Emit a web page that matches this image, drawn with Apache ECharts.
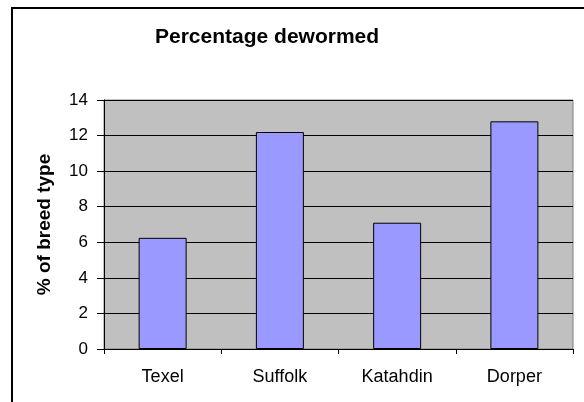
<!DOCTYPE html>
<html>
<head>
<meta charset="utf-8">
<script src="https://cdn.jsdelivr.net/npm/echarts@6/dist/echarts.min.js"></script>
<style>
  html, body { margin: 0; padding: 0; background: #fff; }
  #container { width: 584px; height: 402px; }
</style>
</head>
<body>
<div id="container"></div>
<script>
(function () {
    // breeds and share of each breed that got dewormed
    const breeds = ['Texel', 'Suffolk', 'Katahdin', 'Dorper'];
    const dewormed = [6.25, 12.2, 7.1, 12.8];
    const yTicks = { min: 0, max: 14, step: 2 };

    const font = 'Liberation Sans, Arial, sans-serif';

    var dom = document.getElementById('container');
    var myChart = echarts.init(dom, null, { renderer: 'canvas' });

    myChart.setOption({
        animation: false,
        title: {
            text: 'Percentage dewormed',
            left: 155,
            top: 27,
            padding: 0,
            textStyle: { fontFamily: font, fontSize: 21, fontWeight: 'bold', color: '#000' }
        },
        // outer chart frame, only top and left edges fall inside the window
        graphic: [{
            type: 'rect',
            shape: { x: 12, y: 8, width: 700, height: 500 },
            style: { fill: 'none', stroke: '#000', lineWidth: 2 },
            silent: true
        }],
        grid: {
            left: 104,
            top: 100,
            right: 11,
            bottom: 53,
            show: true,
            backgroundColor: '#c0c0c0',
            borderColor: '#808080',
            borderWidth: 1
        },
        xAxis: {
            type: 'category',
            data: breeds,
            axisLine: { lineStyle: { color: '#000', width: 1 } },
            axisTick: { show: true, length: 5, lineStyle: { color: '#000' } },
            axisLabel: { margin: 19, fontFamily: font, fontSize: 18, color: '#000' }
        },
        yAxis: {
            type: 'value',
            min: yTicks.min,
            max: yTicks.max,
            interval: yTicks.step,
            name: '% of breed type',
            nameLocation: 'middle',
            nameGap: 50,
            nameTextStyle: { fontFamily: font, fontSize: 19, fontWeight: 'bold', color: '#000' },
            axisLine: { show: true, lineStyle: { color: '#000', width: 1 } },
            axisTick: { show: true, length: 7, lineStyle: { color: '#000' } },
            axisLabel: { margin: 16, fontFamily: font, fontSize: 17, color: '#000' },
            splitLine: { show: true, lineStyle: { color: '#000', width: 1 } }
        },
        series: [{
            name: 'Dewormed',
            type: 'bar',
            data: dewormed,
            barWidth: 48,
            itemStyle: { color: '#9999ff', borderColor: '#000', borderWidth: 1 }
        }]
    });
})();
</script>
</body>
</html>
